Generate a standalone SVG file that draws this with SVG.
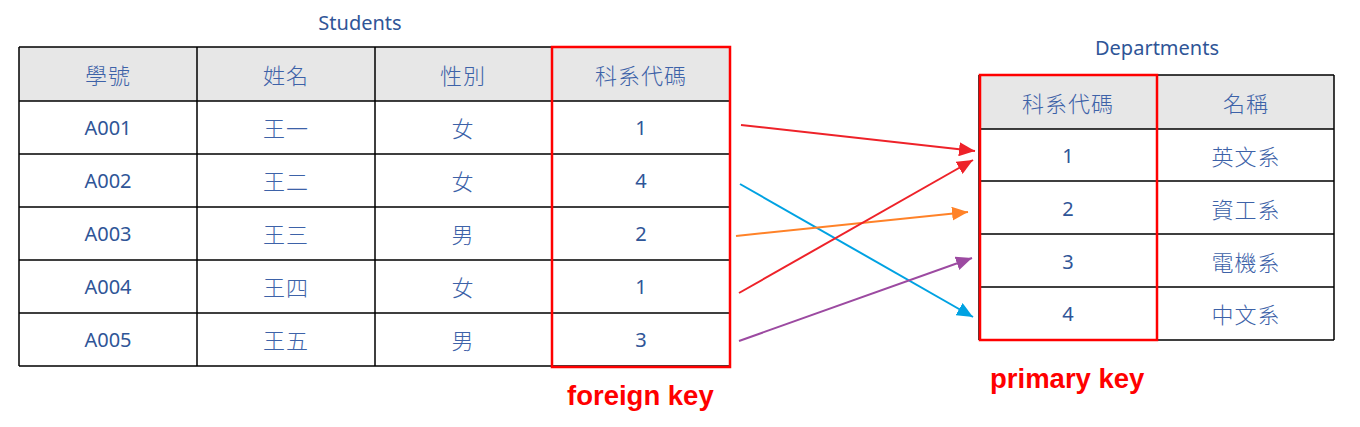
<svg xmlns="http://www.w3.org/2000/svg" width="1360" height="427" viewBox="0 0 1360 427">
<style>
.grid{fill:none;stroke:#000;stroke-width:1.5}
.hdr{fill:#e7e7e7}
.key{fill:none;stroke:#ff0000;stroke-width:2.5}
.t{font-family:"Noto Sans","Noto Sans CJK TC",sans-serif;font-size:20px;fill:#2f5597;text-anchor:middle;dominant-baseline:central}
.z{font-family:"Noto Sans CJK TC",sans-serif;font-size:22px;font-weight:300;fill:#3d62a8;text-anchor:middle;dominant-baseline:central;letter-spacing:1px}
.cap{font-family:"Noto Sans",sans-serif;font-size:20px;fill:#2f5597;text-anchor:middle}
.lbl{font-family:"Liberation Sans",Arial,sans-serif;font-size:27.5px;font-weight:bold;fill:#ff0000}
.c{fill:none;stroke-width:2}
</style>
<defs>
<marker id="mr" markerUnits="userSpaceOnUse" markerWidth="16" markerHeight="14" refX="16" refY="7" orient="auto"><path d="M0,0 L16,7 L0,14 Z" fill="#ee2229"/></marker>
<marker id="mb" markerUnits="userSpaceOnUse" markerWidth="16" markerHeight="14" refX="16" refY="7" orient="auto"><path d="M0,0 L16,7 L0,14 Z" fill="#00a2e2"/></marker>
<marker id="mo" markerUnits="userSpaceOnUse" markerWidth="16" markerHeight="14" refX="16" refY="7" orient="auto"><path d="M0,0 L16,7 L0,14 Z" fill="#ff8228"/></marker>
<marker id="mp" markerUnits="userSpaceOnUse" markerWidth="16" markerHeight="14" refX="16" refY="7" orient="auto"><path d="M0,0 L16,7 L0,14 Z" fill="#9c4aa1"/></marker>
</defs>
<g id="students">
<text class="cap" x="360" y="30">Students</text>
<rect class="hdr" x="19" y="47" width="711" height="54"/>
<path class="grid" d="M19,47H730M19,101H730M19,154H730M19,207H730M19,260H730M19,313H730M19,366H730M19,47V366M197,47V366M375,47V366M552,47V366M730,47V366"/>
<text class="z" x="108" y="74">學號</text><text class="z" x="286" y="74">姓名</text><text class="z" x="463" y="74">性別</text><text class="z" x="641" y="74">科系代碼</text>
<text class="t" x="108" y="127">A001</text><text class="z" x="286" y="127">王一</text><text class="z" x="463" y="127">女</text><text class="t" x="641" y="127">1</text>
<text class="t" x="108" y="180">A002</text><text class="z" x="286" y="180">王二</text><text class="z" x="463" y="180">女</text><text class="t" x="641" y="180">4</text>
<text class="t" x="108" y="233">A003</text><text class="z" x="286" y="233">王三</text><text class="z" x="463" y="233">男</text><text class="t" x="641" y="233">2</text>
<text class="t" x="108" y="286">A004</text><text class="z" x="286" y="286">王四</text><text class="z" x="463" y="286">女</text><text class="t" x="641" y="286">1</text>
<text class="t" x="108" y="339">A005</text><text class="z" x="286" y="339">王五</text><text class="z" x="463" y="339">男</text><text class="t" x="641" y="339">3</text>
<rect class="key" x="552" y="47" width="178" height="320"/>
</g>
<g id="departments">
<text class="cap" x="1157" y="55">Departments</text>
<rect class="hdr" x="979" y="75" width="355" height="54"/>
<path class="grid" d="M979,75H1334M979,129H1334M979,181H1334M979,234H1334M979,287H1334M979,340H1334M979,75V340M1157,75V340M1334,75V340"/>
<text class="z" x="1068" y="102">科系代碼</text><text class="z" x="1246" y="102">名稱</text>
<text class="t" x="1068" y="155">1</text><text class="z" x="1246" y="155">英文系</text>
<text class="t" x="1068" y="208">2</text><text class="z" x="1246" y="208">資工系</text>
<text class="t" x="1068" y="261">3</text><text class="z" x="1246" y="261">電機系</text>
<text class="t" x="1068" y="313">4</text><text class="z" x="1246" y="313">中文系</text>
<rect class="key" x="980" y="75" width="177" height="265"/>
</g>
<g id="connectors">
<line class="c" x1="741" y1="125" x2="975" y2="151" stroke="#ee2229" marker-end="url(#mr)"/>
<line class="c" x1="740" y1="184" x2="973" y2="317" stroke="#00a2e2" marker-end="url(#mb)"/>
<line class="c" x1="736" y1="236" x2="968" y2="212" stroke="#ff8228" marker-end="url(#mo)"/>
<line class="c" x1="739" y1="293" x2="973" y2="160" stroke="#ee2229" marker-end="url(#mr)"/>
<line class="c" x1="739" y1="341" x2="972" y2="258" stroke="#9c4aa1" marker-end="url(#mp)"/>
</g>
<g id="labels">
<text class="lbl" x="567" y="405">foreign key</text>
<text class="lbl" x="990" y="388">primary key</text>
</g>
</svg>
